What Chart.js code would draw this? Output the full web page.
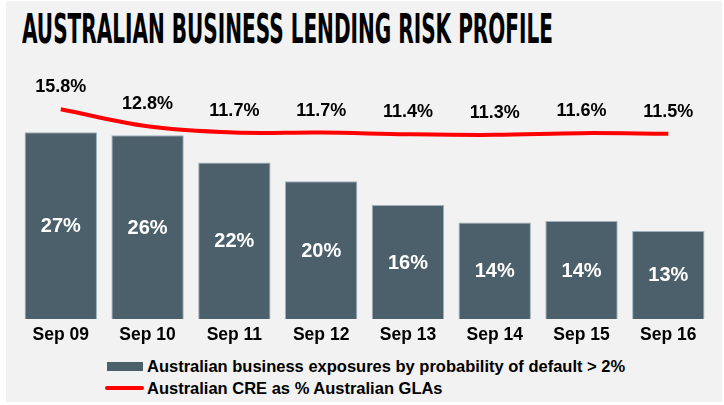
<!DOCTYPE html>
<html>
<head>
<meta charset="utf-8">
<script src="https://cdn.jsdelivr.net/npm/chart.js@4.4.1/dist/chart.umd.min.js"></script>
<style>
  html, body { margin: 0; padding: 0; background: #ffffff; }
  #fond { position: absolute; left: 6px; top: 1px; width: 716px; height: 401px; background: #f2f2f2; }
  #titre {
    position: absolute; left: 22px; top: 9px; margin: 0;
    font-family: "Liberation Sans Narrow", "Arial Narrow", "DejaVu Sans Condensed", sans-serif;
    font-weight: bold; font-size: 40px; line-height: 40px; color: #000;
    white-space: nowrap; transform-origin: 0 0;
  }
  #zone { position: absolute; left: 6px; top: 55px; width: 716px; height: 297px; }
  .leg { position: absolute; left: 147px; font-family: "Liberation Sans", Arial, sans-serif;
    font-weight: bold; font-size: 16.5px; line-height: 16.5px; color: #000; white-space: nowrap; }
  .boite { position: absolute; }
</style>
</head>
<body>
<div id="fond"></div>
<div id="titre">AUSTRALIAN BUSINESS LENDING RISK PROFILE</div>
<div id="zone"><canvas id="graphique"></canvas></div>
<div class="boite" style="left:107px;top:362px;width:36px;height:9px;background:#4c606b;"></div>
<div class="leg" id="leg1" style="top:357.7px;"></div>
<div class="boite" style="left:105px;top:386px;width:39px;height:4px;border-radius:2px;background:#ff0000;"></div>
<div class="leg" id="leg2" style="top:380px;"></div>
<script>
const categorias = ['Sep 09', 'Sep 10', 'Sep 11', 'Sep 12', 'Sep 13', 'Sep 14', 'Sep 15', 'Sep 16'];
const exposicoes = [26.7, 26.3, 22.4, 19.7, 16.3, 13.8, 14.0, 12.6];
// linha: CRE como % dos GLAs
const creGlas = [15.8, 12.8, 11.7, 11.7, 11.4, 11.3, 11.6, 11.5];
const nomeBarras = 'Australian business exposures by probability of default > 2%';
const nomeLinha = 'Australian CRE as % Australian GLAs';

// titulo condensado: ajusta a largura
const titulo = document.getElementById('titre');
const larg = titulo.getBoundingClientRect().width;
titulo.style.transform = 'scaleX(' + (531 / larg) + ')';

document.getElementById('leg1').textContent = nomeBarras;
document.getElementById('leg2').textContent = nomeLinha;

const fonteBase = '"Liberation Sans", Arial, sans-serif';

// rótulos dos valores, desenhados a partir dos elementos do Chart.js
const rotulos = {
    id: 'rotulos',
    afterDatasetsDraw(chart) {
        const ctx = chart.ctx;
        ctx.save();
        ctx.textAlign = 'center';
        ctx.textBaseline = 'middle';

        const metaBarras = chart.getDatasetMeta(1);
        ctx.fillStyle = '#ffffff';
        ctx.font = 'bold 20px ' + fonteBase;
        metaBarras.data.forEach((barra, i) => {
            const y = (barra.y + barra.base) / 2 + 1;
            ctx.fillText(Math.round(exposicoes[i]) + '%', barra.x, y);
        });

        const metaLinha = chart.getDatasetMeta(0);
        ctx.fillStyle = '#000000';
        ctx.font = 'bold 18px ' + fonteBase;
        metaLinha.data.forEach((ponto, i) => {
            ctx.fillText(creGlas[i].toFixed(1) + '%', ponto.x, ponto.y - 22);
        });
        ctx.restore();
    }
};

const ctx = document.getElementById('graphique').getContext('2d');
new Chart(ctx, {
    type: 'bar',
    data: {
        labels: categorias,
        datasets: [
            {
                type: 'line',
                label: nomeLinha,
                data: creGlas,
                yAxisID: 'y2',
                borderColor: '#ff0000',
                borderWidth: 4,
                pointRadius: 0,
                tension: 0.35,
                fill: false,
                order: 0
            },
            {
                label: nomeBarras,
                data: exposicoes,
                yAxisID: 'y',
                backgroundColor: '#4c606b',
                borderColor: '#9fb0ba',
                borderWidth: 1,
                categoryPercentage: 1,
                barPercentage: 0.834,
                order: 1
            }
        ]
    },
    options: {
        responsive: true,
        maintainAspectRatio: false,
        animation: false,
        layout: { padding: { left: 11.4, right: 10.3, top: 20, bottom: 0 } },
        plugins: {
            legend: { display: false },
            tooltip: { enabled: false }
        },
        scales: {
            x: {
                grid: { display: false, drawTicks: false },
                border: { display: false },
                ticks: {
                    color: '#000000',
                    padding: 6,
                    font: { family: fonteBase, size: 17.5, weight: 'bold' }
                }
            },
            y: { display: false, min: 0, max: 34.9 },
            y2: { display: false, min: -21, max: 21.8 }
        }
    },
    plugins: [rotulos]
});
</script>
</body>
</html>
